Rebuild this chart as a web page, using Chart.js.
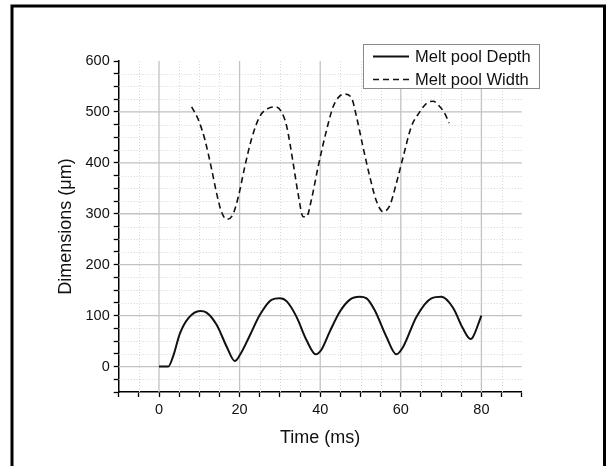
<!DOCTYPE html>
<html>
<head>
<meta charset="utf-8">
<script src="https://cdn.jsdelivr.net/npm/chart.js@4/dist/chart.umd.min.js"></script>
<style>
  html, body { margin: 0; padding: 0; background: #ffffff; }
  #c { display: block; }
</style>
</head>
<body>
<canvas id="c" width="611" height="466"></canvas>
<script>
// ---- data ----
const depthTime   = [0, 2.3, 3.5, 5.2, 7.3, 10.2, 11.8, 14.3, 16.8, 18.8, 20.1, 22.6, 25, 27.9, 30, 31.7, 34.1, 36.6, 38.9, 40.3, 42.4, 44.9, 47.3, 49.8, 51.5, 53.5, 56.4, 58.9, 60.6, 63.9, 67.6, 70.1, 73, 75.4, 77.3, 77.9, 80];
const depthValues = [0, 0, 20, 65, 95, 109, 106, 82, 39, 11, 23, 62, 101, 131, 134, 128, 98, 52, 24, 33, 69, 108, 131, 137, 134, 111, 59, 24, 39, 98, 134, 137, 115, 75, 54, 58, 100];

const widthTime   = [8.1, 9.8, 11.4, 13.1, 14.3, 15.5, 16.8, 18.3, 19.7, 21.3, 23, 25, 27.1, 28.8, 30.4, 31.7, 33.3, 34.5, 35.8, 36.6, 37.8, 39.5, 41.6, 43.2, 44.7, 46.1, 47.8, 49, 50.6, 52.3, 54, 55.6, 57.3, 58.9, 60.6, 62.6, 64.7, 66.4, 68, 69.7, 70.9, 72];
const widthValues = [510, 484, 445, 386, 340, 304, 289, 298, 334, 393, 448, 491, 507, 510, 500, 471, 399, 340, 294, 294, 327, 393, 465, 510, 530, 535, 527, 491, 432, 373, 324, 304, 317, 360, 412, 471, 500, 517, 521, 510, 497, 478];

const seriesLabels = ["Melt pool Depth", "Melt pool Width"];
const xTickLabels = [0, 20, 40, 60, 80];
const yTickLabels = [0, 100, 200, 300, 400, 500, 600];
const xTitle = "Time (ms)";
const yTitle = "Dimensions (\u03bcm)";

const FONT = "'Liberation Sans', Arial, sans-serif";

function toPoints(xs, ys) { return xs.map((x, i) => ({ x: x, y: ys[i] })); }

// custom grid (major solid, minor dotted), drawn through the chart's scales
const gridPlugin = {
  id: 'grid2',
  beforeDatasetsDraw(chart) {
    const { ctx, chartArea: a, scales: { x, y } } = chart;
    ctx.save();
    ctx.strokeStyle = '#d6d6d6';
    ctx.lineWidth = 1;
    ctx.setLineDash([1, 2]);
    for (let v = -5; v < 90; v += 5) {
      if (v % 20 === 0) continue;
      const px = Math.round(x.getPixelForValue(v)) + 0.5;
      ctx.beginPath(); ctx.moveTo(px, a.top); ctx.lineTo(px, a.bottom); ctx.stroke();
    }
    for (let v = -25; v <= 600; v += 25) {
      if (v % 100 === 0) continue;
      const py = Math.round(y.getPixelForValue(v)) + 0.5;
      ctx.beginPath(); ctx.moveTo(a.left, py); ctx.lineTo(a.right, py); ctx.stroke();
    }
    ctx.setLineDash([]);
    ctx.strokeStyle = '#c2c2c2';
    ctx.lineWidth = 1.3;
    xTickLabels.forEach(v => {
      const px = x.getPixelForValue(v);
      ctx.beginPath(); ctx.moveTo(px, a.top); ctx.lineTo(px, a.bottom); ctx.stroke();
    });
    yTickLabels.forEach(v => {
      if (v === 600) return;
      const py = y.getPixelForValue(v);
      ctx.beginPath(); ctx.moveTo(a.left, py); ctx.lineTo(a.right, py); ctx.stroke();
    });
    ctx.restore();
  }
};

// white background + outer frame + legend
const decoPlugin = {
  id: 'deco',
  beforeDraw(chart) {
    const ctx = chart.ctx;
    ctx.save();
    ctx.fillStyle = '#ffffff';
    ctx.fillRect(0, 0, chart.width, chart.height);
    ctx.restore();
  },
  afterDraw(chart) {
    const ctx = chart.ctx;
    ctx.save();
    ctx.strokeStyle = '#000000';
    ctx.lineWidth = 3;
    ctx.strokeRect(12, 6, 592.5, 470);
    const bx = 363.5, by = 44.5, bw = 176, bh = 44;
    ctx.fillStyle = '#ffffff';
    ctx.fillRect(bx, by, bw, bh);
    ctx.strokeStyle = '#8a8a8a';
    ctx.lineWidth = 1;
    ctx.strokeRect(bx, by, bw, bh);
    const rows = [56.5, 79.5];
    chart.data.datasets.forEach((ds, i) => {
      const yy = rows[i];
      ctx.strokeStyle = ds.borderColor;
      ctx.lineWidth = ds.borderWidth;
      ctx.setLineDash(ds.borderDash || []);
      ctx.beginPath(); ctx.moveTo(373, yy); ctx.lineTo(409, yy); ctx.stroke();
      ctx.setLineDash([]);
      ctx.fillStyle = '#111111';
      ctx.font = '16.5px ' + FONT;
      ctx.textBaseline = 'middle';
      ctx.textAlign = 'left';
      ctx.fillText(ds.label, 415, yy + 1);
    });
    ctx.restore();
  }
};

new Chart(document.getElementById('c'), {
  type: 'line',
  data: {
    datasets: [
      {
        label: seriesLabels[0],
        data: toPoints(depthTime, depthValues),
        borderColor: '#111111',
        borderWidth: 2,
        pointRadius: 0,
        fill: false,
        cubicInterpolationMode: 'monotone'
      },
      {
        label: seriesLabels[1],
        data: toPoints(widthTime, widthValues),
        borderColor: '#111111',
        borderWidth: 1.6,
        borderDash: [6, 4],
        pointRadius: 0,
        fill: false,
        cubicInterpolationMode: 'monotone'
      }
    ]
  },
  options: {
    responsive: false,
    animation: false,
    devicePixelRatio: 1,
    layout: { padding: { left: 0, top: 61, right: 89.3, bottom: 0 } },
    plugins: { legend: { display: false }, tooltip: { enabled: false } },
    scales: {
      x: {
        type: 'linear',
        min: -10, max: 90,
        afterFit(s) { s.height = 74; },
        ticks: {
          stepSize: 5, autoSkip: false, maxRotation: 0,
          color: '#111111', font: { family: FONT, size: 14.5 }, padding: 4,
          callback: v => xTickLabels.includes(v) ? String(v) : ''
        },
        grid: { drawOnChartArea: false, drawTicks: true, tickLength: 5, tickColor: '#000000', tickWidth: 1.3 },
        border: { display: true, color: '#000000', width: 1.5 },
        title: { display: true, text: xTitle, color: '#111111', font: { family: FONT, size: 18, lineHeight: 1.2 }, padding: { top: 0, bottom: 17 } }
      },
      y: {
        type: 'linear',
        min: -50, max: 600,
        afterFit(s) { s.width = 118.7; },
        ticks: {
          stepSize: 25, autoSkip: false,
          color: '#111111', font: { family: FONT, size: 14.5 }, padding: 4,
          callback: v => yTickLabels.includes(v) ? String(v) : ''
        },
        grid: { drawOnChartArea: false, drawTicks: true, tickLength: 5, tickColor: '#000000', tickWidth: 1.3 },
        border: { display: true, color: '#000000', width: 1.5 },
        title: { display: true, text: yTitle, color: '#111111', font: { family: FONT, size: 18, lineHeight: 1.2 }, padding: { top: 55, bottom: 0 } }
      }
    }
  },
  plugins: [gridPlugin, decoPlugin]
});
</script>
</body>
</html>
